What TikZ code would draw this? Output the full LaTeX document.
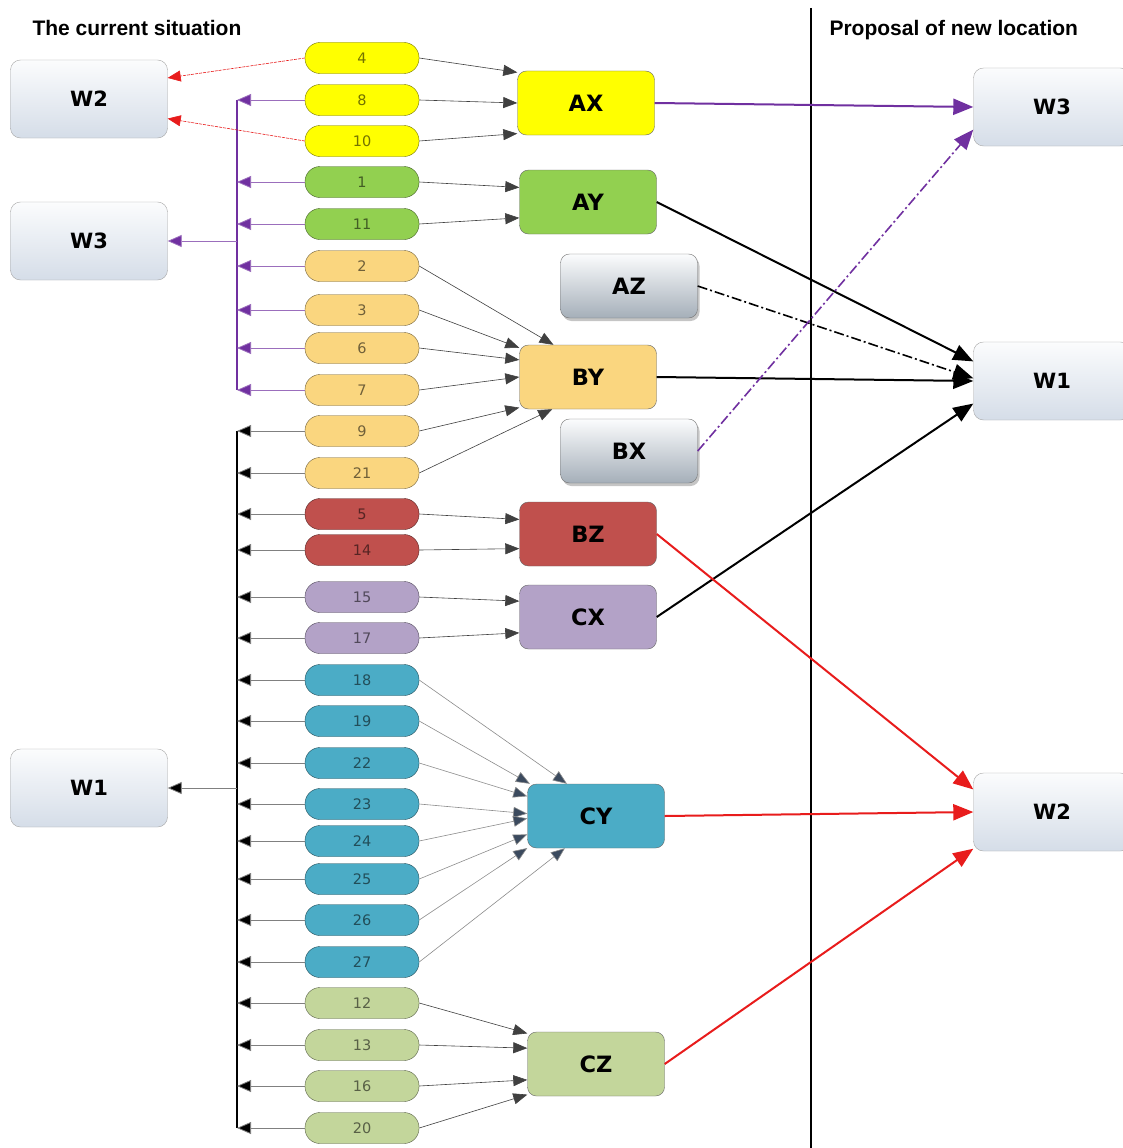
\documentclass[tikz,border=0pt]{standalone}
\usepackage{fontspec}
\setmainfont{DejaVu Sans}
\newfontfamily\titlefont{Liberation Sans}
\usetikzlibrary{arrows.meta,shadows}

\definecolor{yel}{HTML}{FFFF00}
\definecolor{grn}{HTML}{92D050}
\definecolor{ora}{HTML}{FAD67F}
\definecolor{brick}{HTML}{C0504D}
\definecolor{lil}{HTML}{B3A2C7}
\definecolor{tea}{HTML}{4BACC6}
\definecolor{sag}{HTML}{C3D69B}
\definecolor{plum}{HTML}{7030A0}
\definecolor{wtop}{HTML}{FBFCFD}
\definecolor{wbot}{HTML}{D5DDE8}
\definecolor{gbot}{HTML}{A5AFB9}
\definecolor{slate}{HTML}{3B4A5E}
\definecolor{arrred}{HTML}{E81C1C}

\begin{document}
\begin{tikzpicture}[
  x=1pt,y=-1pt,
  pill/.style={draw,rounded corners=15pt,minimum width=114pt,minimum height=31pt,inner sep=0pt,
    font=\fontsize{14.5}{16}\selectfont},
  hub/.style={draw=black!60,rounded corners=9pt,minimum width=137pt,minimum height=64pt,
    font=\fontsize{22.5}{26}\selectfont\bfseries},
  ware/.style={draw=black!35,rounded corners=10pt,minimum width=157pt,minimum height=78pt,
    top color=wtop,bottom color=wbot,font=\fontsize{21}{25}\selectfont\bfseries},
  grey/.style={draw=black!55,rounded corners=9pt,minimum width=137pt,minimum height=64pt,
    top color=wtop,bottom color=gbot,font=\fontsize{22.5}{26}\selectfont\bfseries,
    drop shadow={shadow xshift=2pt,shadow yshift=-3pt,opacity=0.45}},
  title/.style={font=\titlefont\fontsize{21}{25}\selectfont\bfseries,anchor=west},
  feed/.style={-{Triangle[length=14pt,width=11pt]},black!75,line width=0.6pt},
  cyfeed/.style={-{Triangle[length=14pt,width=11pt,fill=slate]},black!45,line width=0.6pt},
  ktap/.style={-{Triangle[length=14pt,width=12pt,fill=black]},black!50,line width=0.8pt},
  ptap/.style={-{Triangle[length=14pt,width=12pt,fill=plum]},plum!70,line width=0.8pt},
  rdash/.style={-{Triangle[length=13pt,width=11pt]},arrred,line width=0.6pt,dash pattern=on 3pt off 1pt},
  big/.style={-{Triangle[length=20pt,width=16pt]},line width=2pt},
  dashdot/.style={dash pattern=on 10pt off 3pt on 2pt off 3pt}
]
  \fill[white] (0,0) rectangle (1123,1148);
  \useasboundingbox (0,0) rectangle (1123,1148);

  \node[title] (ttl) at (29,28) {The current situation};
  \node[title] (ttr) at (826,30) {Proposal of new location};

  % current warehouses
  \node[ware] (lw2) at (89,99) {W2};
  \node[ware] (lw3) at (89,241) {W3};
  \node[ware] (lw1) at (89,788) {W1};

  % product groups
  \foreach \n/\y/\c in {4/58/yel,8/100/yel,10/141/yel,1/182/grn,11/224/grn,
      2/266/ora,3/310/ora,6/348/ora,7/390/ora,9/431/ora,21/473/ora,
      5/514/brick,14/550/brick,15/597/lil,17/638/lil,
      18/680/tea,19/721/tea,22/763/tea,23/804/tea,24/841/tea,25/879/tea,26/920/tea,27/962/tea,
      12/1003/sag,13/1045/sag,16/1086/sag,20/1128/sag}
    \node[pill,fill=\c,draw=\c!45!black,text=\c!45!black] (p\n) at (362,\y) {\n};

  % sections
  \node[hub,fill=yel] (AX) at (586,103) {AX};
  \node[hub,fill=grn] (AY) at (588,202) {AY};
  \node[grey] (AZ) at (629,286) {AZ};
  \node[hub,fill=ora] (BY) at (588,377) {BY};
  \node[grey] (BX) at (629,451) {BX};
  \node[hub,fill=brick] (BZ) at (588,534) {BZ};
  \node[hub,fill=lil] (CX) at (588,617) {CX};
  \node[hub,fill=tea] (CY) at (596,816) {CY};
  \node[hub,fill=sag] (CZ) at (596,1064) {CZ};

  % proposed warehouses
  \node[ware] (rw3) at (1052,107) {W3};
  \node[ware] (rw1) at (1052,381) {W1};
  \node[ware] (rw2) at (1052,812) {W2};

  \draw[line width=2pt] (811,8) -- (811,1148);

  % collecting lines
  \coordinate (bus) at (237,0);
  \draw[plum,line width=1.1pt] (p8.west -| bus) -- (p7.west -| bus);
  \draw[line width=1.2pt] (p9.west -| bus) -- (p20.west -| bus);
  \foreach \n in {8,1,11,2,3,6,7}
    \draw[ptap] (p\n.west) -- (p\n.west -| bus);
  \foreach \n in {9,21,5,14,15,17,18,19,22,23,24,25,26,27,12,13,16,20}
    \draw[ktap] (p\n.west) -- (p\n.west -| bus);
  \draw[ptap] (lw3.east -| bus) -- (lw3.east);
  \draw[ktap] (lw1.east -| bus) -- (lw1.east);
  \draw[rdash] (p4.west) -- (lw2.15);
  \draw[rdash] (p10.west) -- (lw2.346);

  % groups into sections
  \foreach \n/\b/\a in {4/AX/156,8/AX/180,10/AX/204,1/AY/168,11/AY/193,
      2/BY/137,3/BY/157,6/BY/166,7/BY/180,9/BY/204,21/BY/222,
      5/BZ/168,14/BZ/192,15/CX/167,17/CX/193,
      12/CZ/156,13/CZ/167,16/CZ/193,20/CZ/204}
    \draw[feed] (p\n.east) -- (\b.\a);
  \foreach \n/\a in {18/132,19/154,22/164,23/178,24/182,25/195,26/205,27/226}
    \draw[cyfeed] (p\n.east) -- (CY.\a);

  % new location
  \draw[big,plum] (AX.east) -- (rw3.west);
  \draw[big] (AY.east) -- (rw1.166);
  \draw[big,dashdot,line width=1.6pt] (AZ.east) -- (rw1.178);
  \draw[big] (BY.east) -- (rw1.west);
  \draw[big,plum,dashdot,line width=1.6pt] (BX.east) -- (rw3.196);
  \draw[big] (CX.east) -- (rw1.196);
  \draw[big,arrred] (BZ.east) -- (rw2.164);
  \draw[big,arrred] (CY.east) -- (rw2.west);
  \draw[big,arrred] (CZ.east) -- (rw2.205);
\end{tikzpicture}
\end{document}
